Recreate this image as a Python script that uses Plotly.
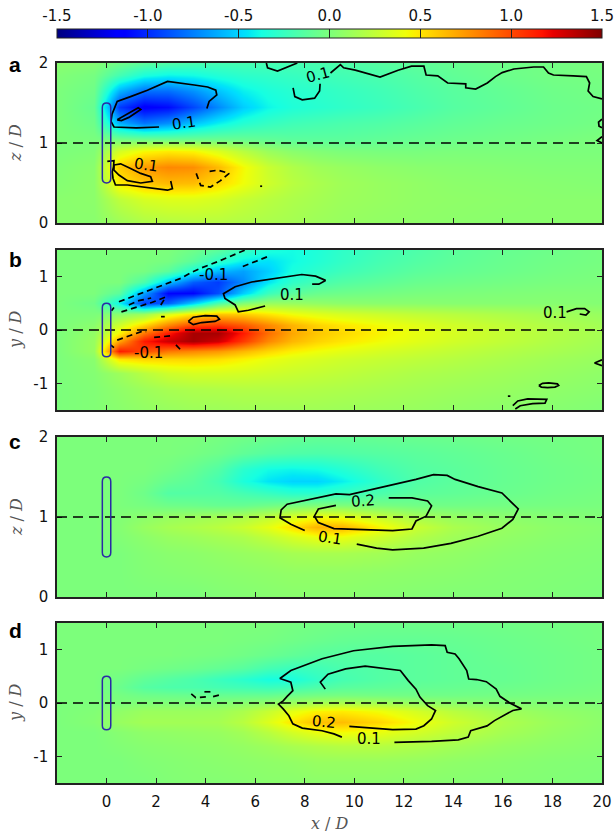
import plotly.graph_objects as go

W, H = 614, 836

# ---------------- data: gridded field values ----------------
X_NODES = [-2, -0.5, 0.5, 1.5, 2.5, 3.5, 4.5, 5.5, 6.5, 7.5, 8.5, 9.5, 11, 12.5, 14, 16, 18, 20]

Z_NODES_A = [0, 0.3, 0.5, 0.7, 0.9, 1.05, 1.25, 1.45, 1.65, 1.85, 2.0]
FIELD_A = [
    [0.05, 0.05, 0.12, 0.18, 0.20, 0.21, 0.21, 0.19, 0.17, 0.15, 0.12, 0.10, 0.08, 0.07, 0.06, 0.05, 0.05, 0.05],
    [0.05, 0.06, 0.24, 0.33, 0.36, 0.36, 0.33, 0.27, 0.22, 0.18, 0.15, 0.12, 0.10, 0.08, 0.07, 0.06, 0.05, 0.05],
    [0.03, 0.06, 0.48, 0.60, 0.64, 0.63, 0.54, 0.42, 0.30, 0.22, 0.17, 0.13, 0.10, 0.08, 0.06, 0.05, 0.04, 0.03],
    [0.02, 0.05, 0.58, 0.74, 0.80, 0.78, 0.64, 0.44, 0.28, 0.19, 0.13, 0.10, 0.07, 0.05, 0.04, 0.03, 0.02, 0.02],
    [0.00, 0.02, 0.32, 0.44, 0.48, 0.45, 0.35, 0.22, 0.11, 0.05, 0.02, 0.00, -0.01, -0.01, 0.00, 0.00, 0.00, 0.00],
    [0.00, -0.01, -0.04, -0.06, -0.07, -0.07, -0.07, -0.08, -0.10, -0.12, -0.12, -0.12, -0.10, -0.08, -0.06, -0.04, -0.02, 0.00],
    [0.00, -0.05, -0.60, -0.78, -0.70, -0.55, -0.42, -0.32, -0.26, -0.22, -0.20, -0.18, -0.16, -0.13, -0.10, -0.07, -0.05, -0.03],
    [0.00, -0.08, -0.95, -1.15, -1.10, -0.92, -0.72, -0.52, -0.40, -0.34, -0.31, -0.28, -0.24, -0.19, -0.14, -0.10, -0.06, -0.04],
    [0.00, -0.05, -0.60, -0.80, -0.80, -0.70, -0.55, -0.42, -0.35, -0.31, -0.29, -0.26, -0.22, -0.17, -0.13, -0.09, -0.05, -0.03],
    [0.02, -0.02, -0.20, -0.35, -0.40, -0.38, -0.33, -0.29, -0.27, -0.25, -0.23, -0.21, -0.18, -0.14, -0.10, -0.06, -0.03, -0.02],
    [0.05, 0.03, -0.05, -0.12, -0.16, -0.19, -0.20, -0.20, -0.20, -0.20, -0.19, -0.17, -0.14, -0.11, -0.08, -0.05, -0.03, -0.01],
]

Y_NODES_B = [-1.5, -1.1, -0.8, -0.55, -0.4, -0.2, -0.05, 0.1, 0.3, 0.5, 0.7, 0.9, 1.1, 1.3, 1.5]
FIELD_B = [
    [0.00, 0.02, 0.05, 0.08, 0.10, 0.12, 0.12, 0.13, 0.13, 0.13, 0.13, 0.12, 0.11, 0.10, 0.08, 0.06, 0.04, 0.02],
    [0.00, 0.02, 0.07, 0.12, 0.16, 0.18, 0.19, 0.20, 0.20, 0.20, 0.19, 0.18, 0.16, 0.14, 0.12, 0.10, 0.07, 0.05],
    [0.00, 0.03, 0.12, 0.22, 0.30, 0.33, 0.33, 0.32, 0.30, 0.28, 0.26, 0.24, 0.21, 0.18, 0.16, 0.13, 0.10, 0.07],
    [0.00, 0.05, 0.50, 0.55, 0.55, 0.55, 0.52, 0.46, 0.40, 0.36, 0.33, 0.30, 0.27, 0.24, 0.21, 0.17, 0.13, 0.10],
    [0.00, 0.10, 1.15, 1.00, 0.85, 0.80, 0.75, 0.65, 0.55, 0.47, 0.42, 0.38, 0.33, 0.29, 0.25, 0.20, 0.16, 0.12],
    [0.00, 0.10, 0.70, 1.15, 1.30, 1.40, 1.30, 1.05, 0.80, 0.65, 0.56, 0.50, 0.43, 0.37, 0.31, 0.25, 0.19, 0.14],
    [0.00, 0.08, 0.45, 0.85, 1.15, 1.40, 1.40, 1.15, 0.88, 0.70, 0.60, 0.54, 0.46, 0.39, 0.33, 0.26, 0.20, 0.15],
    [0.00, 0.05, 0.30, 0.55, 0.80, 1.00, 1.05, 0.95, 0.80, 0.66, 0.56, 0.50, 0.43, 0.37, 0.31, 0.25, 0.19, 0.14],
    [0.00, 0.00, 0.05, 0.12, 0.35, 0.50, 0.60, 0.58, 0.50, 0.42, 0.37, 0.33, 0.29, 0.25, 0.22, 0.18, 0.14, 0.10],
    [0.00, -0.05, -0.40, -0.95, -0.85, -0.52, -0.18, 0.02, 0.10, 0.10, 0.08, 0.06, 0.05, 0.05, 0.04, 0.04, 0.04, 0.03],
    [0.00, 0.00, -0.12, -0.65, -1.12, -1.12, -0.90, -0.52, -0.24, -0.12, -0.07, -0.05, -0.03, -0.01, 0.00, 0.01, 0.02, 0.02],
    [0.00, 0.00, 0.00, -0.18, -0.55, -0.85, -0.95, -0.72, -0.45, -0.28, -0.20, -0.15, -0.11, -0.07, -0.05, -0.03, -0.01, 0.00],
    [0.00, 0.00, 0.00, -0.02, -0.12, -0.35, -0.58, -0.65, -0.52, -0.36, -0.29, -0.23, -0.17, -0.12, -0.09, -0.06, -0.03, -0.01],
    [0.00, 0.00, 0.00, 0.00, -0.02, -0.12, -0.28, -0.42, -0.46, -0.39, -0.33, -0.27, -0.20, -0.15, -0.11, -0.07, -0.04, -0.02],
    [0.00, 0.00, 0.00, 0.00, 0.00, -0.05, -0.12, -0.25, -0.35, -0.38, -0.34, -0.28, -0.22, -0.17, -0.12, -0.08, -0.05, -0.02],
]

Z_NODES_C = [0, 0.3, 0.55, 0.75, 0.88, 1.0, 1.15, 1.3, 1.45, 1.6, 1.8, 2.0]
FIELD_C = [
    [0.00, 0.00, 0.00, 0.00, 0.00, 0.00, 0.02, 0.03, 0.04, 0.05, 0.05, 0.05, 0.04, 0.03, 0.02, 0.02, 0.01, 0.00],
    [0.00, 0.00, 0.00, 0.02, 0.03, 0.04, 0.05, 0.06, 0.07, 0.08, 0.08, 0.08, 0.07, 0.06, 0.05, 0.03, 0.02, 0.01],
    [0.00, 0.00, 0.00, 0.03, 0.05, 0.06, 0.08, 0.10, 0.12, 0.15, 0.16, 0.16, 0.14, 0.10, 0.08, 0.05, 0.03, 0.02],
    [0.00, 0.00, 0.02, 0.06, 0.10, 0.12, 0.15, 0.18, 0.25, 0.33, 0.40, 0.40, 0.30, 0.20, 0.13, 0.08, 0.05, 0.03],
    [0.00, 0.00, 0.03, 0.10, 0.15, 0.18, 0.22, 0.28, 0.38, 0.52, 0.66, 0.66, 0.46, 0.28, 0.17, 0.10, 0.06, 0.04],
    [0.00, 0.00, 0.02, 0.06, 0.10, 0.12, 0.15, 0.18, 0.25, 0.34, 0.42, 0.40, 0.28, 0.16, 0.10, 0.06, 0.04, 0.02],
    [0.00, 0.00, 0.00, -0.02, -0.05, -0.06, -0.08, -0.08, -0.05, -0.02, 0.00, 0.00, -0.02, -0.04, -0.04, -0.03, -0.02, -0.01],
    [0.00, 0.00, 0.00, -0.05, -0.15, -0.15, -0.15, -0.20, -0.25, -0.30, -0.30, -0.25, -0.18, -0.12, -0.10, -0.07, -0.04, -0.02],
    [0.00, 0.00, 0.00, -0.02, -0.08, -0.12, -0.20, -0.35, -0.45, -0.50, -0.50, -0.42, -0.28, -0.16, -0.12, -0.08, -0.05, -0.03],
    [0.00, 0.00, 0.00, 0.00, -0.03, -0.08, -0.15, -0.30, -0.38, -0.40, -0.38, -0.32, -0.22, -0.15, -0.12, -0.08, -0.05, -0.03],
    [0.00, 0.00, 0.00, 0.00, 0.00, -0.02, -0.05, -0.10, -0.14, -0.16, -0.17, -0.16, -0.14, -0.12, -0.10, -0.07, -0.04, -0.02],
    [0.00, 0.00, 0.00, 0.00, 0.00, 0.00, -0.02, -0.04, -0.06, -0.08, -0.09, -0.09, -0.08, -0.07, -0.06, -0.04, -0.03, -0.02],
]

Y_NODES_D = [-1.5, -1.1, -0.8, -0.55, -0.35, -0.15, 0.0, 0.15, 0.3, 0.45, 0.65, 0.9, 1.2, 1.5]
FIELD_D = [
    [0.00, 0.00, 0.00, 0.00, 0.02, 0.03, 0.03, 0.04, 0.05, 0.05, 0.06, 0.06, 0.06, 0.05, 0.04, 0.03, 0.02, 0.01],
    [0.00, 0.00, 0.00, 0.02, 0.03, 0.04, 0.05, 0.06, 0.07, 0.08, 0.10, 0.10, 0.10, 0.09, 0.07, 0.05, 0.03, 0.02],
    [0.00, 0.00, 0.02, 0.04, 0.05, 0.06, 0.07, 0.09, 0.12, 0.16, 0.19, 0.21, 0.21, 0.18, 0.14, 0.09, 0.06, 0.04],
    [0.00, 0.00, 0.04, 0.07, 0.08, 0.09, 0.10, 0.14, 0.22, 0.32, 0.40, 0.43, 0.40, 0.32, 0.24, 0.15, 0.09, 0.05],
    [0.00, 0.03, 0.10, 0.14, 0.14, 0.14, 0.15, 0.22, 0.35, 0.50, 0.62, 0.63, 0.55, 0.42, 0.30, 0.18, 0.11, 0.06],
    [0.00, 0.02, 0.07, 0.11, 0.11, 0.11, 0.12, 0.17, 0.27, 0.38, 0.46, 0.48, 0.42, 0.32, 0.22, 0.13, 0.08, 0.05],
    [0.00, 0.00, 0.00, 0.02, 0.02, 0.02, 0.03, 0.05, 0.08, 0.12, 0.16, 0.18, 0.15, 0.10, 0.06, 0.03, 0.02, 0.01],
    [0.00, 0.00, -0.02, -0.05, -0.06, -0.07, -0.08, -0.08, -0.08, -0.05, -0.03, -0.02, -0.03, -0.04, -0.04, -0.03, -0.02, -0.01],
    [0.00, 0.00, -0.06, -0.14, -0.17, -0.18, -0.20, -0.22, -0.24, -0.22, -0.17, -0.13, -0.11, -0.09, -0.08, -0.06, -0.04, -0.02],
    [0.00, 0.00, -0.04, -0.10, -0.14, -0.18, -0.24, -0.30, -0.37, -0.36, -0.27, -0.20, -0.15, -0.12, -0.10, -0.08, -0.05, -0.03],
    [0.00, 0.00, 0.00, -0.02, -0.04, -0.06, -0.09, -0.13, -0.20, -0.24, -0.22, -0.18, -0.15, -0.12, -0.10, -0.08, -0.05, -0.03],
    [0.00, 0.00, 0.00, 0.00, 0.00, -0.01, -0.02, -0.04, -0.07, -0.10, -0.13, -0.14, -0.14, -0.12, -0.10, -0.07, -0.05, -0.03],
    [0.00, 0.00, 0.00, 0.00, 0.00, 0.00, 0.00, -0.01, -0.02, -0.04, -0.06, -0.08, -0.09, -0.09, -0.08, -0.06, -0.04, -0.02],
    [0.00, 0.00, 0.00, 0.00, 0.00, 0.00, 0.00, 0.00, 0.00, -0.02, -0.03, -0.04, -0.05, -0.05, -0.05, -0.04, -0.03, -0.02],
]

# ---------------- contour lines (data units) ----------------
A_UPPER_OUTER = [(2.12, 1.2), (1.2, 1.19), (0.3, 1.2), (0.18, 1.27), (0.22, 1.36), (0.3, 1.43), (0.43, 1.52),
                 (0.97, 1.58), (1.65, 1.66), (2.46, 1.77), (2.86, 1.75), (3.54, 1.725), (4.08, 1.70), (4.41, 1.66),
                 (4.45, 1.6), (4.14, 1.52), (4.05, 1.43)]
A_UPPER_INNER = [(0.43, 1.29), (0.7, 1.34), (1.0, 1.39), (1.28, 1.44), (1.38, 1.42), (1.15, 1.37), (0.9, 1.32),
                 (0.6, 1.28), (0.43, 1.29)]
A_LOWER_OUTER = [(0.03, 0.77), (0.3, 0.78), (0.28, 0.7), (0.23, 0.64), (0.26, 0.56), (0.36, 0.475), (0.84, 0.475),
                 (1.51, 0.45), (2.46, 0.41), (2.66, 0.43), (2.62, 0.48), (2.59, 0.525)]
A_LOWER_INNER = [(0.3, 0.725), (0.57, 0.74), (0.97, 0.68), (1.38, 0.62), (1.78, 0.58), (1.85, 0.52), (1.38, 0.5),
                 (0.84, 0.53), (0.5, 0.6), (0.3, 0.66), (0.3, 0.725)]
A_HOOK = [(7.53, 1.69), (7.6, 1.58), (7.9, 1.54), (8.4, 1.56), (8.6, 1.65), (8.62, 1.74)]
A_TOP = [(9.04, 1.875), (9.44, 1.98), (9.57, 1.94), (10.04, 1.91), (11.04, 1.825), (11.77, 1.91), (12.31, 1.96),
         (12.81, 1.96), (12.9, 1.85), (13.37, 1.84), (13.77, 1.75), (14.5, 1.74), (14.5, 1.69), (14.9, 1.675),
         (15.37, 1.75), (15.7, 1.83), (15.97, 1.88), (16.44, 1.925), (17.24, 1.95), (17.64, 1.95), (17.84, 1.875),
         (18.04, 1.85), (18.84, 1.84), (19.37, 1.83), (19.5, 1.75), (19.44, 1.65), (19.64, 1.58), (20.0, 1.55)]
A_TOP_ARC = [(6.45, 2.0), (6.5, 1.94), (6.9, 1.9), (7.4, 1.96), (7.7, 2.0)]
A_EDGE_1 = [(20.0, 1.3), (19.86, 1.26), (19.88, 1.21), (20.0, 1.19)]
A_EDGE_2 = [(20.0, 1.08), (19.8, 1.03), (20.0, 1.0)]
A_DOT = [(6.2, 0.46), (6.28, 0.46)]
A_DASHED = [(3.62, 0.62), (3.8, 0.47), (4.2, 0.45), (4.6, 0.53), (4.95, 0.62), (4.5, 0.66), (4.0, 0.64)]

B_MAIN = [(6.4, 0.45), (5.73, 0.37), (5.32, 0.34), (5.19, 0.47), (4.99, 0.53), (4.78, 0.59), (4.72, 0.68),
          (5.19, 0.81), (5.86, 0.9), (6.4, 0.94), (7.21, 0.99), (7.88, 1.04), (8.44, 1.01), (8.84, 0.93),
          (8.57, 0.86), (8.3, 0.86)]
B_LOOP = [(3.3, 0.16), (3.5, 0.24), (3.98, 0.27), (4.45, 0.26), (4.56, 0.2), (4.38, 0.16), (3.84, 0.14),
          (3.5, 0.1), (3.3, 0.16)]
B_RIGHT = [(18.57, 0.34), (18.97, 0.4), (19.3, 0.4), (19.48, 0.34), (19.35, 0.28), (19.1, 0.3)]
B_EDGE = [(20.0, -0.56), (19.7, -0.62), (20.0, -0.67)]
B_OVAL = [(17.45, -1.04), (17.6, -1.0), (17.85, -0.99), (18.2, -1.01), (18.25, -1.04), (18.1, -1.07),
          (17.8, -1.08), (17.55, -1.07), (17.45, -1.04)]
B_BOTTOM = [(16.4, -1.42), (16.6, -1.33), (17.0, -1.29), (17.77, -1.3), (17.7, -1.37), (17.2, -1.38),
            (16.7, -1.42), (16.5, -1.48)]
B_DOT = [(16.2, -1.24), (16.3, -1.24)]
B_DASH_1 = [(0.5, 0.53), (1.2, 0.65), (2.0, 0.8), (3.0, 0.97), (3.47, 1.09), (3.8, 1.16), (4.48, 1.28),
            (5.29, 1.44), (5.6, 1.5)]
B_DASH_2 = [(5.5, 1.19), (6.5, 1.375)]
B_DASH_3 = [(0.6, 0.34), (1.2, 0.42), (1.85, 0.52), (2.4, 0.62)]
B_DASH_4 = [(0.9, 0.47), (1.3, 0.55), (1.8, 0.6)]
B_DASH_5 = [(2.19, 0.47), (2.39, 0.62)]
B_DASH_6 = [(2.2, 0.25), (2.35, 0.25)]
B_DASH_7 = [(0.43, -0.19), (1.04, -0.08), (1.4, -0.03), (1.6, -0.03)]
B_DASH_8 = [(1.92, -0.14), (2.59, -0.11)]
B_DASH_9 = [(2.8, -0.28), (3.0, -0.375)]
B_DASH_10 = [(0.16, -0.28), (0.3, -0.33)]
B_DASH_11 = [(0.2, 0.36), (0.3, 0.42)]

C_OUTER = [(8.0, 0.83), (7.44, 0.91), (7.0, 0.99), (7.05, 1.09), (7.29, 1.16), (8.23, 1.22), (9.26, 1.29),
           (9.81, 1.28), (10.68, 1.34), (11.55, 1.40), (12.49, 1.47), (13.2, 1.53), (13.75, 1.52), (14.07, 1.47),
           (15.0, 1.38), (15.96, 1.30), (16.36, 1.18), (16.62, 1.10), (16.4, 0.97), (15.96, 0.86), (15.0, 0.76),
           (13.9, 0.67), (12.8, 0.61), (11.55, 0.59), (10.9, 0.61), (10.1, 0.66)]
C_INNER = [(9.26, 1.145), (8.55, 1.10), (8.39, 1.01), (8.55, 0.93), (9.18, 0.855), (10.28, 0.84), (11.55, 0.83),
           (12.33, 0.85), (12.49, 0.95), (12.9, 1.01), (13.12, 1.14), (12.96, 1.2), (12.33, 1.24), (11.39, 1.24)]

D_OUTER = [(11.62, -0.74), (13.12, -0.72), (14.2, -0.69), (14.6, -0.64), (14.7, -0.52), (15.36, -0.43),
           (15.66, -0.33), (16.1, -0.21), (16.4, -0.14), (16.75, -0.11), (16.28, 0.0), (15.88, 0.125),
           (15.73, 0.26), (15.33, 0.4), (14.94, 0.44), (14.62, 0.45), (14.54, 0.61), (14.23, 0.83), (14.07, 0.92),
           (13.75, 0.95), (13.67, 1.075), (13.12, 1.09), (11.55, 1.06), (9.97, 0.98), (8.7, 0.83), (7.44, 0.61),
           (7.0, 0.46), (7.44, 0.39), (7.52, 0.23), (7.29, 0.125), (7.13, 0.04), (6.94, -0.02), (7.13, -0.11),
           (7.36, -0.24), (7.52, -0.39), (7.9, -0.47), (8.7, -0.52), (9.18, -0.58), (9.5, -0.64)]
D_INNER = [(8.83, 0.26), (8.63, 0.39), (8.94, 0.54), (9.65, 0.64), (10.44, 0.69), (11.23, 0.64), (11.86, 0.61),
           (12.18, 0.42), (12.49, 0.26), (12.65, 0.11), (12.96, -0.05), (13.28, -0.14), (13.12, -0.3),
           (12.81, -0.425), (12.49, -0.49), (11.55, -0.5), (10.6, -0.475), (9.8, -0.44)]
D_DASH_1 = [(3.42, 0.17), (3.6, 0.1), (4.1, 0.12)]
D_DASH_2 = [(3.95, 0.21), (4.35, 0.21)]
D_DASH_3 = [(4.3, 0.12), (4.55, 0.15)]

# contour labels: (text, x, y, angle)
LABELS_A = [("0.1", 3.13, 1.25, -8), ("0.1", 1.58, 0.72, 8), ("0.1", 8.55, 1.85, -15)]
LABELS_B = [("-0.1", 4.3, 1.03, 0), ("-0.1", 1.7, -0.43, 0), ("0.1", 7.48, 0.65, 0), ("0.1", 18.1, 0.32, 0)]
LABELS_C = [("0.2", 10.36, 1.2, -4), ("0.1", 9.02, 0.74, 8)]
LABELS_D = [("0.2", 8.79, -0.36, 6), ("0.1", 10.6, -0.68, 0)]

# ---------------- axes / ticks ----------------
X_RANGE = [-2, 20]
X_TICKS = [0, 2, 4, 6, 8, 10, 12, 14, 16, 18, 20]
Y_TICKS_XZ = [0, 1, 2]
Y_TICKTEXT_XZ = ["0", "1", "2"]
Y_TICKS_XY = [-1, 0, 1]
Y_TICKTEXT_XY = ["-1", "0", "1"]
CBAR_TICKS = [-1.5, -1.0, -0.5, 0.0, 0.5, 1.0, 1.5]
CBAR_LABELS = ["-1.5", "-1.0", "-0.5", "0.0", "0.5", "1.0", "1.5"]
CBAR_INNER_TICKS = [-1.0, -0.5, 0.0, 0.5, 1.0]
C_MIN, C_MAX = -1.5, 1.5

# ---------------- matplotlib 'jet' colormap ----------------
JET_R = [(0, 0), (0.35, 0), (0.66, 1), (0.89, 1), (1, 0.5)]
JET_G = [(0, 0), (0.125, 0), (0.375, 1), (0.64, 1), (0.91, 0), (1, 0)]
JET_B = [(0, 0.5), (0.11, 1), (0.34, 1), (0.65, 0), (1, 0)]


def seg_val(seg, t):
    for (p0, v0), (p1, v1) in zip(seg, seg[1:]):
        if p0 <= t <= p1:
            return v0 + (v1 - v0) * (t - p0) / (p1 - p0)
    return seg[-1][1]


stops = sorted({p for seg in (JET_R, JET_G, JET_B) for p, _ in seg})
JET = [[t, "rgb(%d,%d,%d)" % (round(255 * seg_val(JET_R, t)), round(255 * seg_val(JET_G, t)),
                              round(255 * seg_val(JET_B, t)))] for t in stops]

# ---------------- layout geometry ----------------
PLOT_L, PLOT_R = 57, 602
PANEL_TOPS = [63, 250, 437, 623]
PANEL_H = 160
CBAR_TOP, CBAR_BOTTOM = 29, 38


def ydom(top):
    return [(H - top - PANEL_H) / H, (H - top) / H]


panels = [
    dict(letter="a", ytitle="<i>z</i> / <i>D</i>", y=Z_NODES_A, z=FIELD_A, yr=[0, 2], yt=Y_TICKS_XZ,
         ytt=Y_TICKTEXT_XZ, centre=1.0, cap=0.055,
         solid=[A_UPPER_OUTER, A_UPPER_INNER, A_LOWER_OUTER, A_LOWER_INNER, A_HOOK, A_TOP, A_TOP_ARC,
                A_EDGE_1, A_EDGE_2, A_DOT],
         dashed=[A_DASHED], labels=LABELS_A, letter_dy=1.5),
    dict(letter="b", ytitle="<i>y</i> / <i>D</i>", y=Y_NODES_B, z=FIELD_B, yr=[-1.5, 1.5], yt=Y_TICKS_XY,
         ytt=Y_TICKTEXT_XY, centre=0.0, cap=0.08,
         solid=[B_MAIN, B_LOOP, B_RIGHT, B_EDGE, B_OVAL, B_BOTTOM, B_DOT],
         dashed=[B_DASH_1, B_DASH_2, B_DASH_3, B_DASH_4, B_DASH_5, B_DASH_6, B_DASH_7, B_DASH_8, B_DASH_9,
                 B_DASH_10, B_DASH_11], labels=LABELS_B, letter_dy=10),
    dict(letter="c", ytitle="<i>z</i> / <i>D</i>", y=Z_NODES_C, z=FIELD_C, yr=[0, 2], yt=Y_TICKS_XZ,
         ytt=Y_TICKTEXT_XZ, centre=1.0, cap=0.055,
         solid=[C_OUTER, C_INNER], dashed=[], labels=LABELS_C, letter_dy=4),
    dict(letter="d", ytitle="<i>y</i> / <i>D</i>", y=Y_NODES_D, z=FIELD_D, yr=[-1.5, 1.5], yt=Y_TICKS_XY,
         ytt=Y_TICKTEXT_XY, centre=0.0, cap=0.08,
         solid=[D_OUTER, D_INNER], dashed=[D_DASH_1, D_DASH_2, D_DASH_3], labels=LABELS_D, letter_dy=7),
]

CYL_HALF_W = 0.17
CYL_HALF_L = 0.5
FRAME = "#222222"
TICKFONT = dict(family="DejaVu Sans", size=15, color="#111111")
TITLEFONT = dict(family="DejaVu Serif", size=16, color="#555555")


def join(polys):
    xs, ys = [], []
    for p in polys:
        xs += [q[0] for q in p] + [None]
        ys += [q[1] for q in p] + [None]
    return xs, ys


fig = go.Figure()
layout = dict(
    width=W, height=H, margin=dict(l=0, r=0, t=0, b=0, autoexpand=False),
    paper_bgcolor="white", plot_bgcolor="rgba(0,0,0,0)", showlegend=False,
    coloraxis=dict(
        colorscale=JET, cmin=C_MIN, cmax=C_MAX,
        colorbar=dict(orientation="h", thicknessmode="pixels", thickness=CBAR_BOTTOM - CBAR_TOP,
                      lenmode="pixels", len=PLOT_R - PLOT_L, x=PLOT_L / W, xanchor="left",
                      y=(H - CBAR_TOP) / H, yanchor="top", xpad=0, ypad=0, outlinewidth=1, outlinecolor=FRAME,
                      ticks="inside", ticklen=CBAR_BOTTOM - CBAR_TOP, tickwidth=1, tickcolor=FRAME,
                      tickvals=CBAR_INNER_TICKS, showticklabels=False),
    ),
)
shapes, annotations = [], []

for i, p in enumerate(panels, start=1):
    sfx = "" if i == 1 else str(i)
    xa, ya = "x" + sfx, "y" + sfx
    fig.add_trace(go.Heatmap(x=X_NODES, y=p["y"], z=p["z"], coloraxis="coloraxis", zsmooth="best",
                             xaxis=xa, yaxis=ya, hoverinfo="skip"))
    sx, sy = join(p["solid"])
    fig.add_trace(go.Scatter(x=sx, y=sy, mode="lines", line=dict(color="black", width=1.7),
                             xaxis=xa, yaxis=ya, hoverinfo="skip"))
    if p["dashed"]:
        dx, dy = join(p["dashed"])
        fig.add_trace(go.Scatter(x=dx, y=dy, mode="lines", line=dict(color="black", width=1.7, dash="6px,4px"),
                                 xaxis=xa, yaxis=ya, hoverinfo="skip"))
    dom = ydom(PANEL_TOPS[i - 1])
    layout["xaxis" + sfx] = dict(domain=[PLOT_L / W, PLOT_R / W], range=X_RANGE, anchor=ya, tickvals=X_TICKS,
                                 ticktext=[str(t) for t in X_TICKS], ticks="inside", ticklen=5, tickwidth=1,
                                 tickcolor=FRAME, mirror="ticks", showline=True, linecolor=FRAME, linewidth=1.5,
                                 showgrid=False, zeroline=False, showticklabels=(i == 4), tickfont=TICKFONT,
                                 ticklabelstandoff=4, automargin=False)
    layout["yaxis" + sfx] = dict(domain=dom, range=p["yr"], anchor=xa, tickvals=p["yt"], ticktext=p["ytt"],
                                 ticks="inside", ticklen=5, tickwidth=1, tickcolor=FRAME, mirror="ticks",
                                 showline=True, linecolor=FRAME, linewidth=1.5, showgrid=False, zeroline=False,
                                 tickfont=TICKFONT, ticklabelstandoff=4, automargin=False)
    # dashed centre line
    shapes.append(dict(type="line", xref=xa + " domain", yref=ya, x0=0, x1=1, y0=p["centre"], y1=p["centre"],
                       line=dict(color="black", width=1.5, dash="10px,6px"), layer="above"))
    # cylinder outline
    x0, x1 = -CYL_HALF_W, CYL_HALF_W
    y0, y1 = p["centre"] - CYL_HALF_L, p["centre"] + CYL_HALF_L
    r = p["cap"]
    path = ("M {x0},{a} L {x0},{b} Q {x0},{y1} 0,{y1} Q {x1},{y1} {x1},{b} L {x1},{a} "
            "Q {x1},{y0} 0,{y0} Q {x0},{y0} {x0},{a} Z").format(x0=x0, x1=x1, y0=y0, y1=y1, a=y0 + r, b=y1 - r)
    shapes.append(dict(type="path", xref=xa, yref=ya, path=path, line=dict(color="#2a2aa6", width=1.5),
                       layer="above"))
    for txt, lx, ly, ang in p["labels"]:
        annotations.append(dict(text=txt, x=lx, y=ly, xref=xa, yref=ya, showarrow=False, textangle=ang,
                                font=dict(family="DejaVu Sans", size=15, color="black")))
    # panel letter
    annotations.append(dict(text="<b>%s</b>" % p["letter"], xref="paper", yref="paper", x=15 / W,
                            y=(H - PANEL_TOPS[i - 1] - p["letter_dy"]) / H, xanchor="center", yanchor="middle",
                            showarrow=False, font=dict(family="Liberation Sans", size=21, color="black")))
    # y title
    annotations.append(dict(text=p["ytitle"], xref="paper", yref="paper", x=16 / W, y=(dom[0] + dom[1]) / 2,
                            xanchor="center", yanchor="middle", textangle=-90, showarrow=False, font=TITLEFONT))

annotations.append(dict(text="<i>x</i> / <i>D</i>", xref="paper", yref="paper", x=(PLOT_L + PLOT_R) / 2 / W,
                        y=(H - 823) / H, xanchor="center", yanchor="middle", showarrow=False, font=TITLEFONT))

# axis carrying the colour-bar tick labels (above the bar)
fig.add_trace(go.Scatter(x=CBAR_TICKS, y=[0.5] * len(CBAR_TICKS), mode="markers", marker=dict(opacity=0),
                         xaxis="x5", yaxis="y5", hoverinfo="skip"))
layout["xaxis5"] = dict(domain=[PLOT_L / W, PLOT_R / W], range=[C_MIN, C_MAX], anchor="y5", side="top",
                        tickvals=CBAR_TICKS, ticktext=CBAR_LABELS, ticks="", showline=False, showgrid=False,
                        zeroline=False, tickfont=TICKFONT, ticklabelstandoff=4, automargin=False)
layout["yaxis5"] = dict(domain=[(H - CBAR_BOTTOM) / H, (H - CBAR_TOP) / H], range=[0, 1], anchor="x5",
                        showticklabels=False, showgrid=False, zeroline=False, showline=False, ticks="")

layout["shapes"] = shapes
layout["annotations"] = annotations
fig.update_layout(**layout)
fig.write_html("out.html")
